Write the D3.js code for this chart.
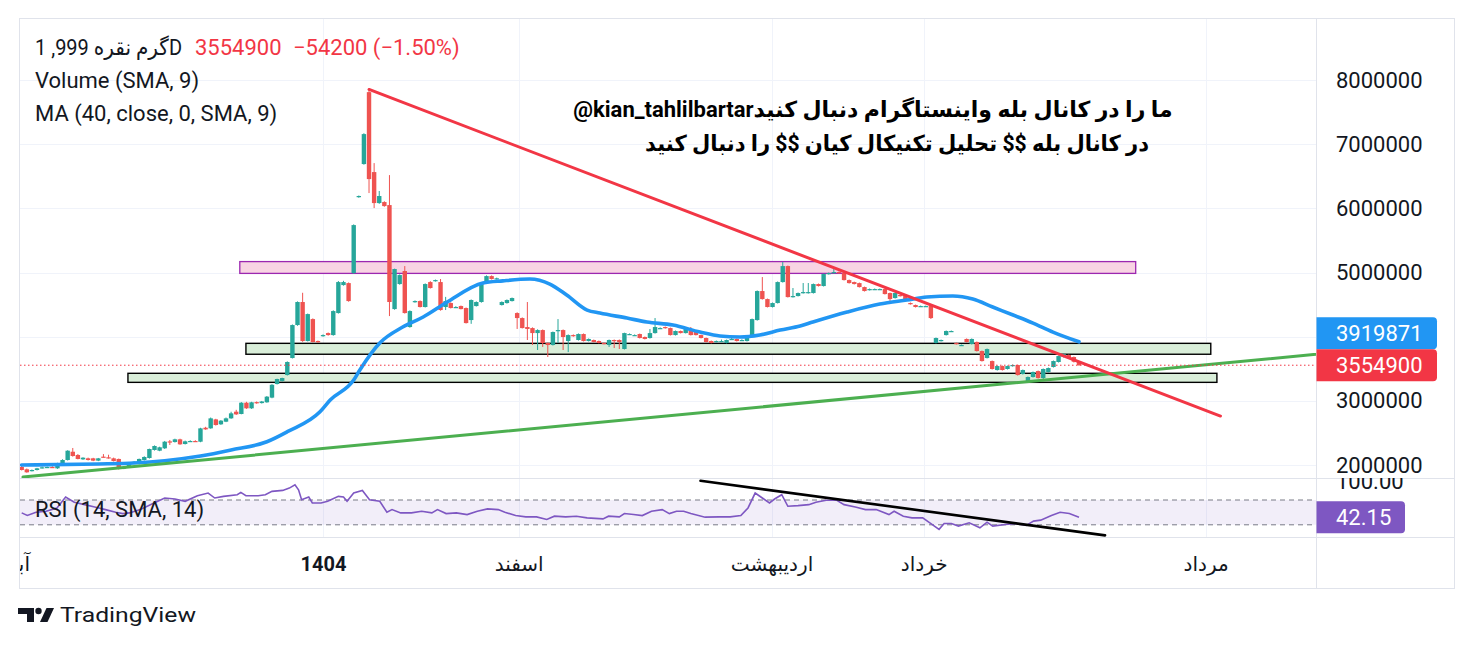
<!DOCTYPE html>
<html>
<head>
<meta charset="utf-8">
<script src="https://cdn.jsdelivr.net/npm/d3@7"></script>
<style>
  body { margin: 0; background: #fff; }
  svg text { font-family: Roboto, "DejaVu Sans", sans-serif; }
</style>
</head>
<body>
<svg id="chart"></svg>
<script>
// daily candles, prices in thousands: [open, high, low, close]
const ohlc = [
  [1969,1985,1915,1922],[1933,1945,1880,1886],[1911,1930,1900,1922],[1922,1955,1915,1948],[1953,1975,1945,1964],
  [1964,1975,1955,1969],[1969,1980,1958,1964],[1948,2035,1940,2026],[2000,2090,1990,2078],[2078,2230,2070,2223],
  [2207,2265,2130,2140],[2156,2170,2088,2094],[2088,2120,2080,2114],[2104,2115,2070,2078],[2104,2112,2060,2068],
  [2068,2110,2060,2104],[2130,2170,2120,2125],[2120,2160,2100,2109],[2104,2115,2055,2062],[2094,2100,1930,1938],
  [1943,1970,1935,1964],[1964,2035,1955,2026],[2026,2060,2020,2050],[2016,2100,2010,2094],[2078,2135,2070,2125],
  [2109,2255,2100,2249],[2234,2305,2225,2296],[2223,2285,2215,2276],[2260,2375,2250,2363],[2368,2390,2312,2358],
  [2358,2410,2350,2400],[2400,2410,2315,2322],[2327,2380,2320,2369],[2374,2385,2365,2374],[2374,2385,2360,2370],
  [2363,2580,2355,2571],[2581,2595,2550,2555],[2571,2740,2565,2727],[2711,2720,2615,2623],[2634,2700,2625,2691],
  [2675,2740,2668,2727],[2727,2830,2720,2805],[2831,2860,2780,2789],[2795,2980,2790,2971],[2971,2985,2875,2883],
  [2883,2985,2875,2977],[2980,2990,2955,2965],[2965,2998,2958,2990],[2977,3075,2970,3065],[3050,3260,3040,3250],
  [3262,3345,3255,3340],[3310,3360,3300,3355],[3402,3615,3395,3605],[3667,4190,3660,4181],[4181,4550,4170,4540],
  [4540,4684,3920,3932],[3932,4360,3925,4352],[4274,4285,3910,3917],[3932,3940,3905,3917],[4010,4035,4000,4025],
  [4056,4065,4015,4025],[4025,4410,4015,4399],[4368,4867,4360,4851],[4804,4870,4795,4851],[4835,4845,4545,4555],
  [4991,5750,4980,5739],[6176,6200,6165,6192],[6690,7170,6680,7157],[7811,7853,6238,6456],[6565,6705,6004,6082],
  [6082,6270,6070,6192],[6098,6110,6025,6035],[6051,6518,4321,4540],[4430,5060,4420,5054],[4820,4970,4810,4960],
  [5023,5100,4360,4368],[4150,4410,4140,4399],[4540,4565,4530,4555],[4555,4565,4455,4462],[4462,4830,4455,4820],
  [4851,4865,4750,4758],[4867,4890,4858,4882],[4851,4898,4405,4415],[4462,4620,4415,4555],[4524,4535,4440,4446],
  [4462,4475,4450,4462],[4477,4485,4425,4430],[4446,4455,4205,4212],[4259,4580,4200,4571],[4477,4550,4470,4540],
  [4540,4845,4530,4835],[4851,4955,4845,4944],[4944,4955,4890,4898],[4898,4920,4890,4910],[4493,4550,4485,4540],
  [4524,4580,4515,4571],[4555,4610,4548,4602],[4368,4380,4120,4290],[4290,4300,4128,4134],[4150,4540,3948,4120],
  [4134,4145,3870,4056],[4056,4115,3792,4103],[4103,4112,3840,3901],[3901,3910,3683,3870],[3870,4080,3862,4072],
  [4088,4274,3901,4103],[4103,4112,3792,3995],[3932,4035,3760,4025],[4025,4035,4000,4010],[3948,4050,3940,4041],
  [4041,4050,3925,3932],[3932,3972,3925,3964],[3948,3955,3910,3917],[3932,3940,3895,3901],[3901,3910,3880,3886],
  [3870,3955,3840,3948],[3948,3956,3823,3932],[3948,3956,3808,3917],[3808,4062,3800,4056],[4041,4050,4032,4041],
  [4025,4035,4018,4025],[4041,4048,3972,3979],[3995,4002,3957,3964],[3979,4119,3970,4056],[4056,4290,4048,4150],
  [4134,4145,4125,4134],[4150,4158,4126,4134],[4134,4142,4018,4025],[4025,4096,4018,4088],[4088,4095,4050,4056],
  [4056,4127,4050,4119],[4119,4150,4018,4025],[4072,4080,4018,4025],[4025,4032,3972,3979],[3979,3986,3910,3917],
  [3932,3940,3895,3901],[3917,3940,3910,3932],[3932,3955,3925,3932],[3901,3955,3895,3948],[3964,3980,3955,3964],
  [3964,3972,3925,3932],[3948,3960,3940,3948],[3932,4018,3925,4010],[4010,4282,4003,4274],[4259,4720,4250,4711],
  [4711,4929,4578,4586],[4586,4594,4455,4462],[4462,4532,4455,4524],[4524,4860,4517,4851],[4851,5163,4843,5100],
  [5100,5108,4610,4617],[4617,4758,4610,4633],[4633,4688,4626,4680],[4680,4836,4672,4695],[4680,4836,4672,4695],
  [4680,4828,4672,4820],[4820,4828,4782,4789],[4789,4984,4782,4976],[4976,4999,4968,4991],[4991,5085,4984,5007],
  [5007,5015,4984,4991],[4991,4999,4875,4882],[4882,4890,4828,4835],[4851,4858,4813,4820],[4835,4843,4766,4773],
  [4773,4780,4704,4711],[4727,4750,4720,4742],[4742,4750,4735,4742],[4742,4750,4735,4742],[4742,4750,4657,4664],
  [4680,4688,4508,4586],[4602,4688,4594,4680],[4649,4657,4626,4633],[4633,4641,4578,4586],[4524,4532,4500,4508],
  [4493,4500,4455,4462],[4477,4485,4470,4477],[4477,4485,4470,4477],[4477,4485,4275,4290],[3901,3987,3894,3979],
  [3932,3955,3925,3948],[4025,4096,4018,4088],[4088,4096,4080,4088],[3901,3908,3878,3886],[3870,3878,3862,3870],
  [3964,3972,3910,3917],[3886,3972,3878,3964],[3917,3925,3768,3776],[3776,3784,3612,3620],[3667,3815,3660,3807],
  [3620,3628,3488,3496],[3480,3550,3472,3542],[3542,3550,3472,3480],[3496,3550,3488,3542],[3542,3566,3534,3558],
  [3558,3566,3394,3402],[3418,3488,3410,3480],[3293,3379,3278,3371],[3371,3457,3363,3449],[3464,3472,3347,3355],
  [3355,3504,3309,3496],[3449,3519,3441,3511],[3527,3628,3519,3620],[3605,3706,3597,3698],[3683,3738,3675,3730],
  [3714,3722,3659,3667],[3683,3691,3597,3609.1],[3609.1,3617,3547,3554.9]
];

// smoothed MA(40): [candle index, price in thousands]
const maPoints = [
  [0,2000],[15,2016],[22,2031],[28,2067],[35,2140],[41,2234],[48,2363],[52,2519],[58.4,2830],[60.4,3013],
  [65,3324],[66.2,3480],[70.1,3901],[74.6,4150],[78.6,4306],[83.3,4540],[90.3,4836],[94.2,4870],[99.5,4898],
  [103.4,4820],[106.7,4649],[110.7,4415],[113.2,4368],[118.5,4290],[122.4,4228],[127.5,4181],[132.8,4072],
  [136.7,4010],[140.6,3994],[144.5,4025],[148.5,4103],[152.4,4166],[154.9,4228],[161.6,4384],[168,4508],
  [173.3,4571],[177.2,4617],[182.3,4633],[186.2,4586],[190.1,4462],[194.1,4337],[198,4212],[201.9,4072],
  [207,3919.871]
];

// RSI(14): [candle index, value]
const rsiPoints = [
  [0,49.2],[1.1,45],[2.8,50.3],[4.8,51.9],[6.9,57.2],[8.6,74.8],[10.3,66.3],[12.3,62.5],[14.3,58.8],[16.4,54.5],
  [18.4,50.3],[19.8,48.1],[21.1,49.2],[23.2,54.5],[25.9,65.2],[28,73.2],[30,71.6],[32,67.9],[34.4,76.9],[36.5,81.2],
  [37.8,73.2],[39.5,75.9],[42.2,78.5],[42.9,82.3],[43.9,76.9],[46.3,76.9],[47.7,78.5],[49,83.9],[51.1,85.5],
  [52.4,89.2],[53.5,94.5],[54.2,86.5],[54.8,70.5],[56.2,74.8],[56.9,65.2],[58.6,65.2],[59.9,67.9],[62,75.9],
  [63,74.8],[63.7,67.9],[65,81.2],[66.7,85.5],[68.1,70.5],[70.1,67.9],[71.5,50.3],[72.5,54.5],[74.2,49.2],
  [76.3,49.2],[78.3,51.9],[80.3,49.2],[81.4,54.5],[83.1,48.1],[85.1,49.2],[87.2,46.5],[89.2,51.9],[91.2,55.6],
  [93.3,54.5],[94.6,50.3],[96.7,44.9],[98.7,42.8],[100.8,42.8],[102.8,38.6],[104.3,43.9],[106.5,42.8],[108.6,43.9],
  [110.7,41.2],[113.8,39.6],[114.9,43.9],[117,42.8],[118,48.1],[119.8,46.5],[121.5,44.9],[123.3,51.9],[125.4,54.5],
  [126.8,48.1],[128.2,51.9],[129.6,51.9],[131,48.1],[133.8,42.3],[136.6,42.8],[138.7,42.8],[140.8,44.9],[142.2,57.2],
  [143.6,81.2],[145,73.2],[146.4,65.2],[147.4,71.6],[148.8,78.5],[150,59.9],[152,60.9],[154.1,62.5],[155.5,66.3],
  [157.5,69.5],[159.6,69.5],[161,62.5],[163.2,58.8],[165.2,54.5],[167.3,54.5],[169.8,46.5],[170.8,51.9],[172.6,43.9],
  [174.3,41.2],[176.4,41.2],[177.8,33.2],[179.6,22.6],[180.6,32.2],[182,32.2],[183.4,27.9],[185.5,33.2],[187.6,25.2],
  [189,34.3],[190.1,27.9],[192.6,30.6],[194.6,32.2],[196.7,29],[198.1,35.9],[199.5,37.5],[201.6,44.9],[203.3,50.3],
  [205.1,48.1],[207,42.15]
];

const priceTicks = [2000, 3000, 4000, 5000, 6000, 7000, 8000];
const timeIdx = [-1.6, 59, 97.3, 146.8, 176.6, 231.8];
const timeText = ['آبان', '1404', 'اسفند', 'اردیبهشت', 'خرداد', 'مرداد'];

// drawings: [[index, price], [index, price]]
const redTrend = [[68, 7853], [234.7, 2763]];
const greenTrend = [[0.25, 1813], [262, 3790]];
const rsiTrend = [[132.9, 101], [212.1, 13]];
// zones: [fromIndex, toIndex, top, bottom]
const pinkZone = [42.7, 218.1, 5170, 4986];
const greenZones = [[43.9, 232.8, 3896, 3726], [20.8, 234, 3429, 3288]];

const symbolText = '1 ,999 گرم نقرهD';
const noteLines = ['@kian_tahlilbartarما را در کانال بله واینستاگرام دنبال کنید',
                   'در کانال بله $$ تحلیل تکنیکال کیان $$ را دنبال کنید'];

// layout
const W = 1473, H = 654;
const plotL = 20, plotR = 1316, axisR = 1454;
const paneTop = 19, paneBot = 478, rsiBot = 537, timeBot = 588;
const dark = '#131722', up = '#26a69a', down = '#ef5350';

const svg = d3.select('#chart').attr('width', W).attr('height', H);

const x = d3.scaleLinear().domain([0, 207]).range([21.7, 1079]);
const y = d3.scaleLinear().domain([2000, 8000]).range([465, 80]);
const r = d3.scaleLinear().domain([30, 70]).range([524.8, 500]);
const full = d3.format('d');

const defs = svg.append('defs');
const clip = (id, x0, y0, x1, y1) => defs.append('clipPath').attr('id', id)
  .append('rect').attr('x', x0).attr('y', y0).attr('width', x1 - x0).attr('height', y1 - y0);
clip('pricePane', plotL, paneTop, plotR, paneBot);
clip('rsiPane', plotL, paneBot, plotR, rsiBot);
clip('timeAxis', plotL, rsiBot, plotR, timeBot);
clip('rsiAxis', plotR, paneBot, axisR, rsiBot);

// grid
const grid = svg.append('g').attr('stroke', '#f0f3fa').attr('stroke-width', 1);
grid.selectAll('.hg').data(priceTicks).join('line')
  .attr('x1', plotL).attr('x2', plotR)
  .attr('y1', d => Math.round(y(d)) + 0.5).attr('y2', d => Math.round(y(d)) + 0.5);
grid.selectAll('.vg').data(timeIdx.filter(d => x(d) > plotL)).join('line')
  .attr('x1', d => Math.round(x(d)) + 0.5).attr('x2', d => Math.round(x(d)) + 0.5)
  .attr('y1', paneTop).attr('y2', rsiBot);

// price pane
const pane = svg.append('g').attr('clip-path', 'url(#pricePane)');

pane.append('rect')
  .attr('x', x(pinkZone[0])).attr('width', x(pinkZone[1]) - x(pinkZone[0]))
  .attr('y', y(pinkZone[2])).attr('height', y(pinkZone[3]) - y(pinkZone[2]))
  .attr('fill', '#f8d4e3').attr('stroke', '#9c27b0').attr('stroke-width', 1.3);
pane.selectAll('.gz').data(greenZones).join('rect')
  .attr('x', d => x(d[0])).attr('width', d => x(d[1]) - x(d[0]))
  .attr('y', d => y(d[2])).attr('height', d => y(d[3]) - y(d[2]))
  .attr('fill', '#d9eed9').attr('stroke', '#000').attr('stroke-width', 1.4);

const candles = pane.append('g').selectAll('g').data(ohlc).join('g')
  .attr('fill', d => d[3] >= d[0] ? up : down)
  .attr('stroke', d => d[3] >= d[0] ? up : down);
candles.append('line')
  .attr('x1', (d, i) => x(i)).attr('x2', (d, i) => x(i))
  .attr('y1', d => y(d[1])).attr('y2', d => y(d[2])).attr('stroke-width', 1);
candles.append('rect')
  .attr('x', (d, i) => x(i) - 2.2).attr('width', 4.4)
  .attr('y', d => y(Math.max(d[0], d[3])))
  .attr('height', d => Math.max(1.2, Math.abs(y(d[0]) - y(d[3]))))
  .attr('stroke', 'none');

pane.append('path').datum(maPoints)
  .attr('d', d3.line().x(d => x(d[0])).y(d => y(d[1])).curve(d3.curveMonotoneX))
  .attr('fill', 'none').attr('stroke', '#2196f3').attr('stroke-width', 3.6)
  .attr('stroke-linecap', 'round');

const seg = (g, pts, sx, sy, color, w) => g.append('line')
  .attr('x1', sx(pts[0][0])).attr('y1', sy(pts[0][1]))
  .attr('x2', sx(pts[1][0])).attr('y2', sy(pts[1][1]))
  .attr('stroke', color).attr('stroke-width', w).attr('stroke-linecap', 'round');
seg(pane, greenTrend, x, y, '#4caf50', 3);
seg(pane, redTrend, x, y, '#f23645', 3);

const last = ohlc[ohlc.length - 1][3];
const prev = ohlc[ohlc.length - 2][3];
const maLast = maPoints[maPoints.length - 1][1];
pane.append('line')
  .attr('x1', plotL).attr('x2', plotR).attr('y1', y(last)).attr('y2', y(last))
  .attr('stroke', '#f23645').attr('stroke-width', 1).attr('stroke-dasharray', '1.5 2.5');

// note text
const notes = svg.append('g').attr('font-weight', 700).attr('font-size', 22).attr('fill', '#000')
  .attr('text-anchor', 'middle');
notes.append('text').attr('x', 873).attr('y', 117).text(noteLines[0]);
notes.append('text').attr('x', 897).attr('y', 151)
  .attr('textLength', 504).attr('lengthAdjust', 'spacingAndGlyphs').text(noteLines[1]);

// RSI pane
const rp = svg.append('g').attr('clip-path', 'url(#rsiPane)');
rp.append('rect').attr('x', plotL).attr('width', plotR - plotL)
  .attr('y', r(70)).attr('height', r(30) - r(70)).attr('fill', '#7e57c2').attr('fill-opacity', 0.1);
rp.selectAll('.lvl').data([70, 30]).join('line')
  .attr('x1', plotL).attr('x2', plotR).attr('y1', d => r(d)).attr('y2', d => r(d))
  .attr('stroke', '#787b86').attr('stroke-width', 1).attr('stroke-dasharray', '5 4');
rp.append('path').datum(rsiPoints)
  .attr('d', d3.line().x(d => x(d[0])).y(d => r(d[1])))
  .attr('fill', 'none').attr('stroke', '#7e57c2').attr('stroke-width', 1.6);
seg(rp, rsiTrend, x, r, '#000', 2.6);

// frame lines
const frame = svg.append('g').attr('stroke', '#e0e3eb').attr('stroke-width', 1).attr('fill', 'none');
frame.append('rect').attr('x', plotL - 0.5).attr('y', paneTop - 0.5)
  .attr('width', axisR - plotL + 1).attr('height', timeBot - paneTop + 1);
frame.append('line').attr('x1', plotR + 0.5).attr('x2', plotR + 0.5).attr('y1', paneTop).attr('y2', timeBot);
[paneBot, rsiBot].forEach(v => frame.append('line')
  .attr('x1', plotL).attr('x2', axisR).attr('y1', v + 0.5).attr('y2', v + 0.5));

// price axis (the 4000000 label sits under the value tags, so only its grid line shows)
const ya = svg.append('g').attr('transform', `translate(${plotR},0)`)
  .call(d3.axisRight(y).tickValues(priceTicks.filter(d => d !== 4000)).tickSize(0).tickPadding(20)
    .tickFormat(d => full(d * 1000)));
ya.select('.domain').remove();
ya.selectAll('text').attr('font-size', 22).attr('fill', dark).attr('font-family', null);

// rsi axis
const ra = svg.append('g').attr('clip-path', 'url(#rsiAxis)').append('g')
  .attr('transform', `translate(${plotR},0)`)
  .call(d3.axisRight(r).tickValues([100]).tickSize(0).tickPadding(20).tickFormat(d3.format('.2f')));
ra.select('.domain').remove();
ra.selectAll('text').attr('font-size', 22).attr('fill', dark).attr('font-family', null);

// time axis
const ta = svg.append('g').attr('clip-path', 'url(#timeAxis)').append('g')
  .attr('transform', `translate(0,${rsiBot})`)
  .call(d3.axisBottom(x).tickValues(timeIdx).tickSize(0).tickPadding(20)
    .tickFormat((d, k) => timeText[k]));
ta.select('.domain').remove();
ta.selectAll('text').attr('font-size', 20).attr('fill', dark).attr('font-family', null)
  .attr('font-weight', (d, k) => timeText[k] === '1404' ? 700 : 400);

// value tags on the scale
const tag = (yc, color, label, wTag) => {
  const h = 32, x0 = plotR + 0.5, x1 = plotR + wTag, t = yc - h / 2, rr = 4;
  svg.append('path')
    .attr('d', `M${x0},${t}H${x1 - rr}Q${x1},${t} ${x1},${t + rr}V${t + h - rr}Q${x1},${t + h} ${x1 - rr},${t + h}H${x0}Z`)
    .attr('fill', color);
  svg.append('text').attr('x', plotR + 20).attr('y', yc).attr('dy', '0.35em')
    .attr('font-size', 22).attr('fill', '#fff').text(label);
};
const lastY = y(last);
let maY = y(maLast);
if (Math.abs(maY - lastY) < 32) maY = lastY - 32;
tag(maY, '#2196f3', full(Math.round(maLast * 1000)), 121);
tag(lastY, '#f23645', full(Math.round(last * 1000)), 121);
const rsiLast = rsiPoints[rsiPoints.length - 1][1];
tag(r(rsiLast), '#7e57c2', rsiLast.toFixed(2), 89);

// legends
const sgn = s => s.replace('-', '\u2212');
const chg = Math.round((last - prev) * 1000);
const pct = chg / (prev * 1000) * 100;
const lg = svg.append('g').attr('font-size', 22).attr('fill', dark);
lg.append('text').attr('x', 35).attr('y', 55)
  .attr('textLength', 147).attr('lengthAdjust', 'spacingAndGlyphs').text(symbolText);
lg.append('text').attr('x', 195).attr('y', 55).attr('fill', '#f23645').text(full(Math.round(last * 1000)));
lg.append('text').attr('x', 293).attr('y', 55).attr('fill', '#f23645')
  .text(`${sgn(String(chg))} (${sgn(pct.toFixed(2))}%)`);
lg.append('text').attr('x', 35).attr('y', 88).text('Volume (SMA, 9)');
lg.append('text').attr('x', 35).attr('y', 121).text('MA (40, close, 0, SMA, 9)');
lg.append('text').attr('x', 35).attr('y', 517).text('RSI (14, SMA, 14)');

// TradingView mark
const logo = svg.append('g').attr('fill', dark);
logo.append('path').attr('d', 'M18,608H34V622H27V614H18Z');
logo.append('circle').attr('cx', 38.5).attr('cy', 611).attr('r', 3.2);
logo.append('path').attr('d', 'M40,622L46.5,608H54L47.5,622Z');
logo.append('text').attr('x', 60).attr('y', 622).attr('font-size', 21)
  .attr('textLength', 136).attr('lengthAdjust', 'spacingAndGlyphs').text('TradingView');
</script>
</body>
</html>
